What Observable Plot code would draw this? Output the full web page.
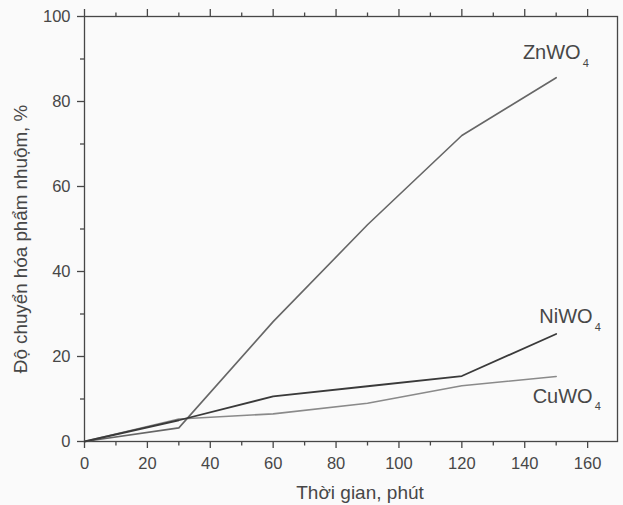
<!DOCTYPE html>
<html>
<head>
<meta charset="utf-8">
<script src="https://cdn.jsdelivr.net/npm/d3@7"></script>
<script src="https://cdn.jsdelivr.net/npm/@observablehq/plot@0.6"></script>
<style>
  html, body { margin: 0; padding: 0; background: #fafafa; }
  #chart { width: 623px; height: 505px; }
</style>
</head>
<body>
<div id="chart"></div>
<script>
// Data
const time = [0, 30, 60, 90, 120, 150];
const znwo4 = [0, 3.2, 28.2, 51, 72, 85.6];
const niwo4 = [0, 5.0, 10.6, 13, 15.4, 25.3];
const cuwo4 = [0, 5.3, 6.5, 9, 13.1, 15.3];

const xMajor = [0, 20, 40, 60, 80, 100, 120, 140, 160];
const xMinor = [10, 30, 50, 70, 90, 110, 130, 150];
const yMajor = [0, 20, 40, 60, 80, 100];
const yMinor = [10, 30, 50, 70, 90];

const xTitle = "Thời gian, phút";
const yTitle = "Độ chuyển hóa phẩm nhuộm, %";

const rows = (vals) => time.map((t, i) => ({t, v: vals[i]}));
const zn = rows(znwo4), ni = rows(niwo4), cu = rows(cuwo4);
const last = (arr) => [arr[arr.length - 1]];

const ink = "#474747";
const font = "'Liberation Sans', Arial, sans-serif";

const chart = Plot.plot({
  width: 623,
  height: 505,
  marginLeft: 84,
  marginRight: 6,
  marginTop: 16,
  marginBottom: 64,
  style: {background: "#fafafa", color: ink, fontFamily: font, fontSize: "16px"},
  x: {domain: [0, 169.5]},
  y: {domain: [0, 100]},
  marks: [
    Plot.frame({stroke: ink, strokeWidth: 1.3}),
    // bottom axis
    Plot.axisX({ticks: xMajor, tickSize: 7, tickPadding: 9, label: null, fontSize: 16.5, stroke: ink, strokeWidth: 1.3}),
    Plot.axisX({ticks: xMinor, tickSize: 4.5, tickFormat: () => "", label: null, stroke: ink, strokeWidth: 1.3}),
    // top axis
    Plot.axisX({anchor: "top", ticks: xMajor, tickSize: 8, tickFormat: () => "", label: null, stroke: ink, strokeWidth: 1.3}),
    Plot.axisX({anchor: "top", ticks: xMinor, tickSize: 4.5, tickFormat: () => "", label: null, stroke: ink, strokeWidth: 1.3}),
    // left axis
    Plot.axisY({ticks: yMajor, tickSize: 7, tickPadding: 7, label: null, fontSize: 16.5, stroke: ink, strokeWidth: 1.3}),
    Plot.axisY({ticks: yMinor, tickSize: 4, tickFormat: () => "", label: null, stroke: ink, strokeWidth: 1.3}),
    // series
    Plot.line(cu, {x: "t", y: "v", stroke: "#8a8a8a", strokeWidth: 1.6}),
    Plot.line(zn, {x: "t", y: "v", stroke: "#666666", strokeWidth: 1.6}),
    Plot.line(ni, {x: "t", y: "v", stroke: "#3a3a3a", strokeWidth: 1.8}),
    // series labels
    Plot.text(last(zn), {x: "t", y: "v", text: () => "ZnWO", textAnchor: "end", lineAnchor: "bottom", dx: 24.5, dy: -19, fontSize: 20, fill: ink}),
    Plot.text(last(zn), {x: "t", y: "v", text: () => "4", textAnchor: "start", lineAnchor: "bottom", dx: 26.5, dy: -10.5, fontSize: 11, fill: ink}),
    Plot.text(last(ni), {x: "t", y: "v", text: () => "NiWO", textAnchor: "end", lineAnchor: "bottom", dx: 36.5, dy: -10.5, fontSize: 20, fill: ink}),
    Plot.text(last(ni), {x: "t", y: "v", text: () => "4", textAnchor: "start", lineAnchor: "bottom", dx: 38.5, dy: -3, fontSize: 11, fill: ink}),
    Plot.text(last(cu), {x: "t", y: "v", text: () => "CuWO", textAnchor: "end", lineAnchor: "bottom", dx: 36.5, dy: 27, fontSize: 20, fill: ink}),
    Plot.text(last(cu), {x: "t", y: "v", text: () => "4", textAnchor: "start", lineAnchor: "bottom", dx: 38.5, dy: 34, fontSize: 11, fill: ink}),
    // axis titles
    Plot.text([xTitle], {frameAnchor: "bottom", textAnchor: "middle", lineAnchor: "bottom", dx: 9, dy: 57, fontSize: 19, fill: ink}),
    Plot.text([yTitle], {frameAnchor: "left", textAnchor: "middle", lineAnchor: "middle", rotate: -90, dx: -64, dy: 10, fontSize: 18.8, fill: ink})
  ]
});
document.getElementById("chart").appendChild(chart);
</script>
</body>
</html>
